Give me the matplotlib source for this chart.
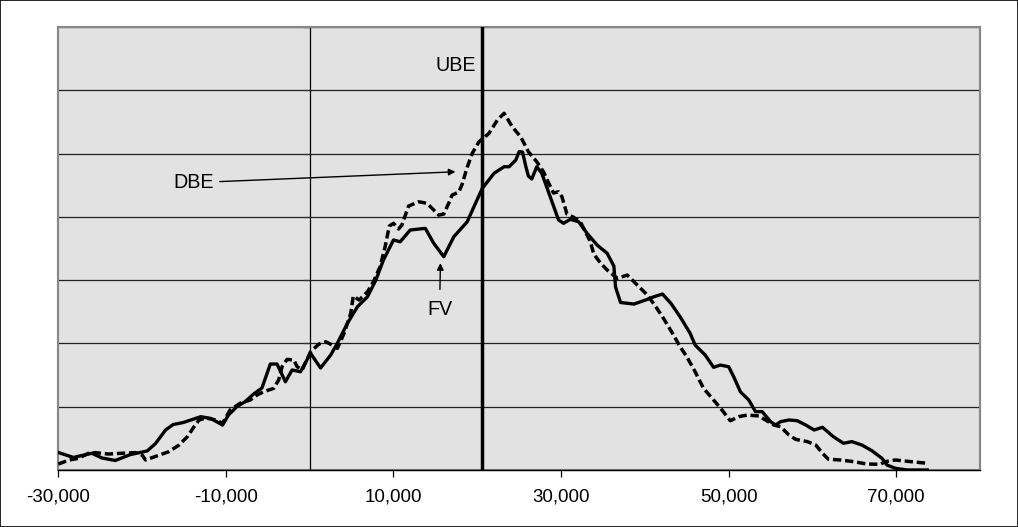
import matplotlib
matplotlib.use("Agg")
import matplotlib.pyplot as plt
from matplotlib.patches import Rectangle

plt.rcParams["font.family"] = ["Liberation Sans", "DejaVu Sans"]

# Income change (dollars) and share of households, two estimates
fv_x = [-30000, -28200, -26000, -24800, -23200, -21400, -19400, -18400, -17200, -16300,
        -15100, -14000, -13000, -11800, -10400, -9700, -8700, -7700, -6700, -5700,
        -5200, -4700, -3900, -2900, -2100, -1100, 100, 1300, 2500, 3300,
        4500, 5700, 6900, 7900, 8800, 10000, 10800, 12000, 13800, 14800,
        16000, 17200, 18800, 19600, 20600, 22000, 23200, 23800, 24600, 25000,
        25400, 25800, 26100, 26500, 27100, 27700, 28700, 29700, 30300, 31100,
        32100, 33100, 34300, 35500, 36300, 36500, 37100, 38700, 40300, 41100,
        42100, 43100, 44200, 45400, 46000, 47200, 48200, 49000, 50000, 50600,
        51400, 52400, 53200, 54000, 55000, 55600, 56200, 57200, 58200, 59200,
        60200, 61200, 62500, 63700, 64700, 65900, 67100, 68300, 68900, 69900,
        71300, 73700]
fv_y = [0.138, 0.099, 0.132, 0.095, 0.075, 0.122, 0.150, 0.209, 0.316, 0.359,
        0.375, 0.399, 0.421, 0.407, 0.355, 0.434, 0.500, 0.540, 0.600, 0.648,
        0.742, 0.837, 0.837, 0.697, 0.790, 0.776, 0.922, 0.806, 0.908, 1.001,
        1.159, 1.290, 1.369, 1.501, 1.659, 1.817, 1.803, 1.896, 1.909, 1.791,
        1.685, 1.843, 1.961, 2.080, 2.225, 2.344, 2.396, 2.396, 2.449, 2.516,
        2.512, 2.396, 2.322, 2.299, 2.396, 2.344, 2.159, 1.975, 1.949, 1.980,
        1.961, 1.870, 1.777, 1.712, 1.611, 1.445, 1.323, 1.311, 1.348, 1.369,
        1.390, 1.317, 1.211, 1.080, 0.987, 0.908, 0.811, 0.829, 0.816, 0.737,
        0.618, 0.553, 0.461, 0.461, 0.382, 0.355, 0.382, 0.395, 0.389, 0.355,
        0.316, 0.337, 0.263, 0.211, 0.224, 0.197, 0.152, 0.092, 0.039, 0.013,
        0.0, 0.0]

dbe_x = [-30000, -28700, -27600, -26400, -25600, -24000, -22400, -20800, -20000, -19600,
         -18400, -16800, -15600, -14600, -13800, -13200, -12400, -11200, -10400, -9500,
         -8300, -7100, -6300, -5500, -4300, -3700, -3300, -2700, -1900, -1500,
         -900, 100, 1100, 1900, 2700, 3300, 4100, 4900, 5200, 5900,
         6900, 7600, 8400, 9000, 9500, 10000, 10600, 11000, 11800, 13000,
         14000, 14800, 15400, 16000, 16600, 17000, 17800, 18200, 18800, 19400,
         20200, 21400, 22400, 23200, 24200, 25200, 26100, 27100, 27900, 28400,
         29100, 29700, 30100, 30700, 31500, 32300, 32900, 33500, 33900, 34700,
         35500, 36700, 37900, 39100, 40300, 41300, 42100, 43300, 44200, 45000,
         46000, 47000, 48200, 49200, 50200, 51200, 52200, 53600, 54400, 55400,
         56200, 57200, 58000, 59400, 60400, 61200, 61900, 63300, 64900, 66500,
         68100, 68700, 69900, 71700, 73700]
dbe_y = [0.047, 0.079, 0.092, 0.132, 0.137, 0.126, 0.132, 0.137, 0.118, 0.079,
         0.107, 0.145, 0.197, 0.263, 0.342, 0.395, 0.411, 0.395, 0.369, 0.474,
         0.527, 0.553, 0.592, 0.618, 0.645, 0.711, 0.816, 0.874, 0.869, 0.816,
         0.790, 0.934, 0.995, 1.013, 0.987, 0.961, 1.080, 1.238, 1.374, 1.343,
         1.408, 1.487, 1.606, 1.764, 1.927, 1.949, 1.904, 1.935, 2.085, 2.119,
         2.107, 2.054, 2.014, 2.022, 2.109, 2.172, 2.196, 2.259, 2.393, 2.502,
         2.593, 2.660, 2.765, 2.818, 2.709, 2.630, 2.514, 2.435, 2.356, 2.283,
         2.188, 2.198, 2.159, 2.022, 1.996, 1.961, 1.882, 1.803, 1.706, 1.635,
         1.580, 1.514, 1.540, 1.461, 1.382, 1.290, 1.211, 1.080, 0.974, 0.895,
         0.776, 0.645, 0.553, 0.474, 0.389, 0.421, 0.434, 0.427, 0.395, 0.355,
         0.342, 0.276, 0.242, 0.224, 0.197, 0.132, 0.085, 0.079, 0.066, 0.047,
         0.045, 0.066, 0.079, 0.066, 0.053]

ube_x = 20600
x_ticks = [-30000, -10000, 10000, 30000, 50000, 70000]
y_grid = [0.5, 1.0, 1.5, 2.0, 2.5, 3.0, 3.5]

fig = plt.figure(figsize=(10.18, 5.27), dpi=100)
fig.patches.append(Rectangle((0, 0), 1, 1, transform=fig.transFigure,
                             fill=False, edgecolor="black", linewidth=1.2))

ax = fig.add_axes([0.0573, 0.1082, 0.9054, 0.8406])
ax.set_facecolor("#E2E2E2")
ax.set_xlim(-30000, 80000)
ax.set_ylim(0, 3.5)

# horizontal gridlines
for g in y_grid:
    ax.axhline(g, color="#222222", linewidth=0.9, zorder=1)

# frame: gray on top/right/left, black axis at the bottom, value axis at x=0
for side in ("top", "right"):
    ax.spines[side].set_color("#888888")
    ax.spines[side].set_linewidth(1.5)
ax.spines["bottom"].set_color("black")
ax.spines["bottom"].set_linewidth(1.0)
ax.spines["left"].set_position(("data", 0))
ax.spines["left"].set_linewidth(0.9)
ax.spines["left"].set_zorder(1.5)
ax.add_patch(Rectangle((0, 0), 1, 1, transform=ax.transAxes, fill=False,
                       edgecolor="#888888", linewidth=1.5, zorder=0.5, clip_on=False))
ax.plot([-30000, -30000], [0, 3.5], color="#888888", linewidth=1.5, zorder=1.2, clip_on=False)

ax.set_yticks(y_grid)
ax.set_yticklabels([])
ax.tick_params(axis="y", direction="out", length=5, width=0.9, color="#333333")

ax.set_xticks(x_ticks)
ax.set_xticklabels([f"{v:,}" for v in x_ticks], fontsize=13.5)
ax.tick_params(axis="x", direction="out", length=5, width=0.9, pad=8)

# series
ax.plot(fv_x, fv_y, color="black", linewidth=2.4, solid_joinstyle="round", zorder=3)
ax.plot(dbe_x, dbe_y, color="black", linewidth=2.5, dashes=(2.4, 1.1), zorder=3)
ax.axvline(ube_x, color="black", linewidth=2.5, zorder=4)

# labels
ax.text(19800, 3.199, "UBE", fontsize=14.2, ha="right", va="center", zorder=5)
ax.annotate("DBE", xy=(17400, 2.356), xytext=(-11400, 2.27), fontsize=14.2,
            ha="right", va="center", zorder=5,
            arrowprops=dict(arrowstyle="-|>", color="black", lw=1.0,
                            mutation_scale=10, shrinkA=2, shrinkB=0))
ax.annotate("FV", xy=(15600, 1.635), xytext=(15500, 1.264), fontsize=14.2,
            ha="center", va="center", zorder=5,
            arrowprops=dict(arrowstyle="-|>", color="black", lw=1.0,
                            mutation_scale=10, shrinkA=6, shrinkB=0))

fig.savefig("out.png", dpi=100)
